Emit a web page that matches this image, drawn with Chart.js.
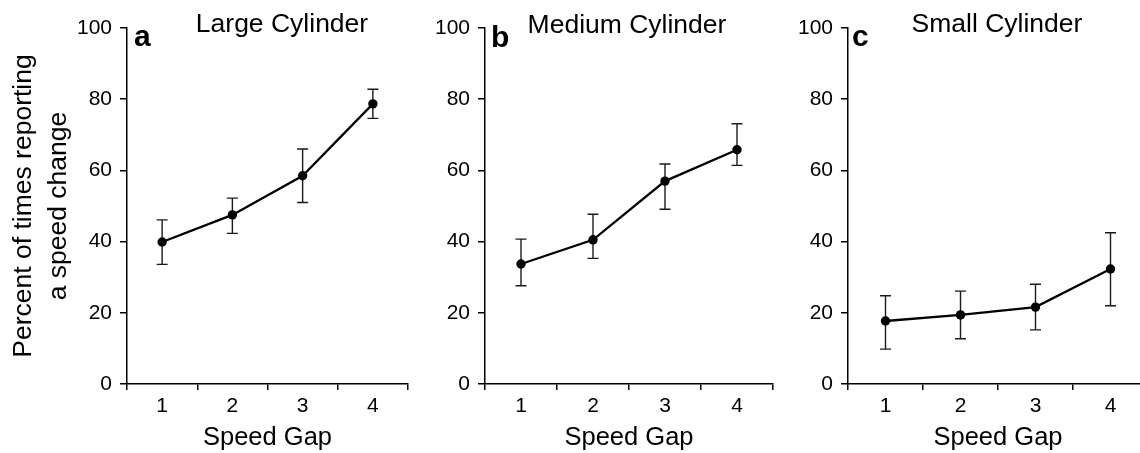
<!DOCTYPE html>
<html lang="en">
<head>
<meta charset="UTF-8">
<title>Percent of times reporting a speed change</title>
<script src="https://cdn.jsdelivr.net/npm/chart.js"></script>
<style>
  html, body { margin: 0; padding: 0; background: #fff; overflow: hidden; }
  body { width: 1140px; height: 453px; position: relative; }
  .panel { position: absolute; top: 0; height: 453px; }
</style>
</head>
<body>
<div class="panel" style="left:0px"><canvas id="chartA" width="420" height="453"></canvas></div>
<div class="panel" style="left:420px"><canvas id="chartB" width="360" height="453"></canvas></div>
<div class="panel" style="left:780px"><canvas id="chartC" width="380" height="453"></canvas></div>

<script>
// data
const speedGaps = ['1', '2', '3', '4'];

const largeMeans = [39.9, 47.5, 58.5, 78.7];
const largeUpper = [46.1, 52.2, 66.0, 82.8];
const largeLower = [33.6, 42.3, 51.0, 74.6];

const mediumMeans = [33.7, 40.5, 57.0, 65.8];
const mediumUpper = [40.7, 47.7, 61.8, 73.1];
const mediumLower = [27.6, 35.3, 49.1, 61.4];

const smallMeans = [17.7, 19.4, 21.6, 32.3];
const smallUpper = [24.8, 26.1, 28.0, 42.5];
const smallLower = [9.8, 12.7, 15.2, 22.0];

const yMin = 0, yMax = 100, yStep = 20;

Chart.defaults.font.family = "Arial, 'Liberation Sans', Helvetica, sans-serif";
Chart.defaults.color = '#000';

// vertical error bars with small caps, drawn under the points
const errorBars = {
    id: 'errorBars',
    beforeDatasetsDraw(chart) {
        const ctx = chart.ctx;
        const y = chart.scales.y;
        chart.data.datasets.forEach((ds, di) => {
            const meta = chart.getDatasetMeta(di);
            ctx.save();
            ctx.strokeStyle = '#1a1a1a';
            ctx.lineWidth = 1.4;
            meta.data.forEach((pt, i) => {
                const yt = y.getPixelForValue(ds.errUpper[i]);
                const yb = y.getPixelForValue(ds.errLower[i]);
                ctx.beginPath();
                ctx.moveTo(pt.x, yt); ctx.lineTo(pt.x, yb);
                ctx.moveTo(pt.x - 5.5, yt); ctx.lineTo(pt.x + 5.5, yt);
                ctx.moveTo(pt.x - 5.5, yb); ctx.lineTo(pt.x + 5.5, yb);
                ctx.stroke();
            });
            ctx.restore();
        });
    }
};

// panel letter and panel heading
const panelText = {
    id: 'panelText',
    afterDraw(chart, args, opts) {
        const ctx = chart.ctx;
        ctx.save();
        ctx.fillStyle = '#000';
        ctx.textBaseline = 'alphabetic';
        ctx.textAlign = 'left';
        ctx.font = "bold 30px Arial, 'Liberation Sans', sans-serif";
        ctx.fillText(opts.letter, opts.letterX, opts.letterY);
        ctx.textAlign = 'center';
        ctx.font = "26.5px Arial, 'Liberation Sans', sans-serif";
        ctx.fillText(opts.title, opts.titleX, opts.titleY);
        ctx.restore();
    }
};

function makePanel(id, means, upper, lower, p) {
    const yScale = {
        min: yMin,
        max: yMax,
        ticks: { stepSize: yStep, font: { size: 21 }, color: '#000', padding: 8 },
        grid: { drawOnChartArea: false, drawTicks: true, tickLength: 7, color: '#000', lineWidth: 1.5 },
        border: { display: true, color: '#000', width: 1.5 },
        afterFit: s => { s.width = p.axisWidth; }
    };
    if (p.yTitle) {
        yScale.title = {
            display: true,
            text: ['Percent of times reporting', 'a speed change'],
            font: { size: 26.5, lineHeight: 1.32 },
            color: '#000',
            padding: { top: 6, bottom: 0 }
        };
    }

    return new Chart(document.getElementById(id), {
        type: 'line',
        data: {
            labels: speedGaps,
            datasets: [{
                data: means,
                errUpper: upper,
                errLower: lower,
                borderColor: '#000',
                borderWidth: 2.3,
                backgroundColor: '#000',
                pointRadius: 4.7,
                pointBackgroundColor: '#000',
                pointBorderWidth: 0,
                tension: 0,
                fill: false
            }]
        },
        options: {
            responsive: false,
            animation: false,
            layout: { padding: { top: 28, right: p.padRight, left: 0, bottom: 0 } },
            plugins: {
                legend: { display: false },
                tooltip: { enabled: false },
                panelText: p.text
            },
            scales: {
                x: {
                    type: 'category',
                    offset: true,
                    grid: { offset: true, drawOnChartArea: false, tickLength: 6, color: '#000', lineWidth: 1.5 },
                    border: { display: true, color: '#000', width: 1.5 },
                    ticks: { font: { size: 21 }, color: '#000', padding: 4 },
                    title: {
                        display: true,
                        text: 'Speed Gap',
                        font: { size: 25.5, lineHeight: 1.2 },
                        color: '#000',
                        padding: { top: 0, bottom: 0 }
                    },
                    afterFit: s => { s.height = 69; }
                },
                y: yScale
            }
        },
        plugins: [errorBars, panelText]
    });
}

makePanel('chartA', largeMeans, largeUpper, largeLower, {
    axisWidth: 127, padRight: 12, yTitle: true,
    text: { letter: 'a', letterX: 134, letterY: 46, title: 'Large Cylinder', titleX: 282, titleY: 32 }
});
makePanel('chartB', mediumMeans, mediumUpper, mediumLower, {
    axisWidth: 65, padRight: 7,
    text: { letter: 'b', letterX: 71, letterY: 47, title: 'Medium Cylinder', titleX: 207, titleY: 33 }
});
makePanel('chartC', smallMeans, smallUpper, smallLower, {
    axisWidth: 68, padRight: 12,
    text: { letter: 'c', letterX: 72, letterY: 46, title: 'Small Cylinder', titleX: 217, titleY: 32 }
});
</script>
</body>
</html>
